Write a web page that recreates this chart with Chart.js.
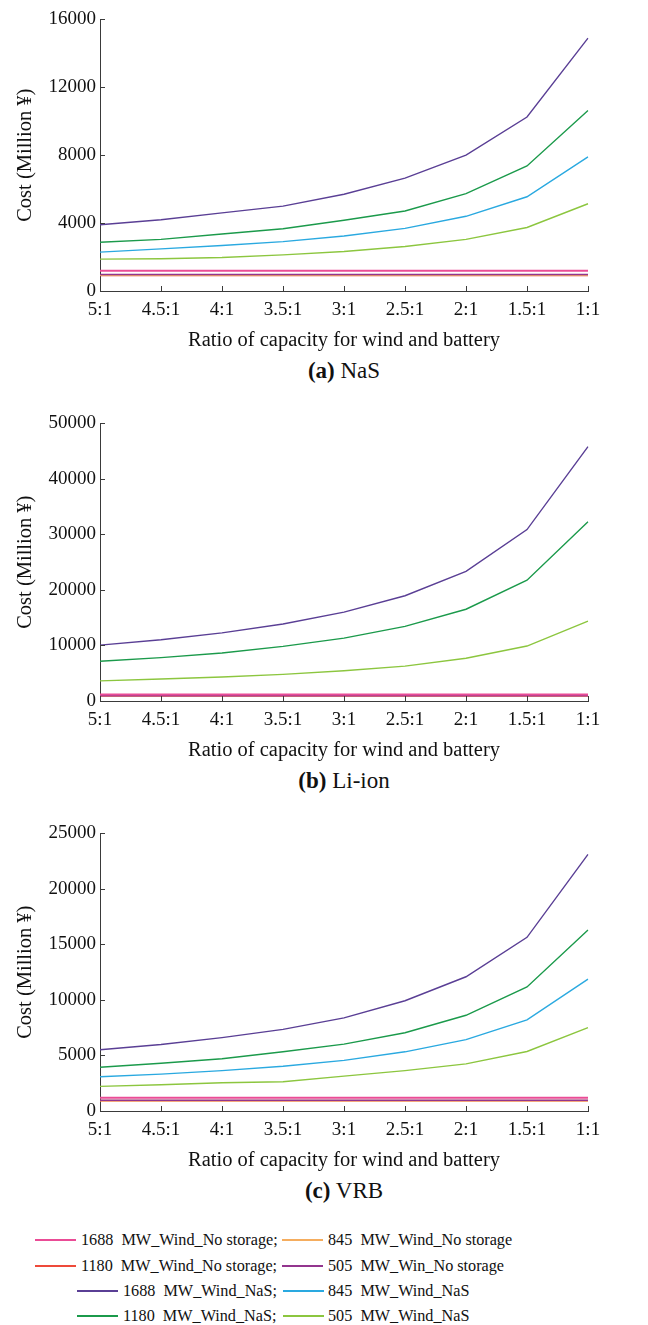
<!DOCTYPE html>
<html><head><meta charset="utf-8">
<script src="https://cdn.jsdelivr.net/npm/chart.js@4.4.1/dist/chart.umd.min.js"></script>
<style>
html,body{margin:0;padding:0;background:#fff;}
#wrap{position:relative;width:648px;height:1325px;overflow:hidden;font-family:"Liberation Serif","Times New Roman",serif;color:#111;}
canvas{position:absolute;left:0;}
.sub{position:absolute;left:0;width:688px;text-align:center;font-size:23px;line-height:26px;white-space:pre;}
.leg{position:absolute;font-size:16.2px;line-height:18px;white-space:pre;}
.legline{position:absolute;height:2px;}
</style></head><body><div id="wrap"></div>
<script>
// ---- data ----
const categories = ['5:1','4.5:1','4:1','3.5:1','3:1','2.5:1','2:1','1.5:1','1:1'];

const noStorage1688 = [1190,1190,1190,1190,1190,1190,1190,1190,1190];
const noStorage1180 = [920,920,920,920,920,920,920,920,920];
const noStorage845  = [935,935,935,935,935,935,935,935,935];
const noStorage505  = [970,970,970,970,970,970,970,970,970];

const nas1688 = [3900,4200,4600,5000,5700,6650,8000,10250,14900];
const nas1180 = [2870,3040,3360,3670,4170,4710,5740,7370,10630];
const nas845  = [2290,2480,2680,2910,3240,3690,4400,5550,7900];
const nas505  = [1880,1900,1970,2130,2330,2620,3040,3740,5140];

const li1688 = [10070,11020,12270,13870,16000,18960,23350,30870,45810];
const li1180 = [7170,7820,8650,9840,11320,13450,16530,21750,32300];
const li845  = [null,null,null,null,null,null,null,null,null];
const li505  = [3620,3970,4330,4800,5450,6280,7700,9900,14400];

const vrb1688 = [5510,5990,6610,7350,8390,9930,12090,15640,23110];
const vrb1180 = [3940,4300,4710,5330,6020,7050,8620,11170,16300];
const vrb845  = [3080,3320,3640,4030,4560,5330,6430,8210,11880];
const vrb505  = [2220,2370,2550,2640,3140,3640,4240,5360,7500];

const yMaxes = [16000, 50000, 25000];
const ySteps = [4000, 10000, 5000];
const panelLetters = ['(a)','(b)','(c)'];
const panelNames = [' NaS',' Li-ion',' VRB'];

const seriesLabels = ['1688  MW_Wind_No storage;','1180  MW_Wind_No storage;','1688  MW_Wind_NaS;','1180  MW_Wind_NaS;',
                      '845  MW_Wind_No storage','505  MW_Win_No storage','845  MW_Wind_NaS','505  MW_Wind_NaS'];
const seriesColors = ['#ea4c96','#ee4a3a','#5a3f95','#1b9a4b','#f5ad5e','#93358e','#2aa9e0','#8cc63f'];

// ---- layout ----
const FONT = '"Liberation Serif","Times New Roman",serif';
const plotTops = [16, 420, 830];
const plotBottoms = [291, 701, 1111];
const PLOT_LEFT = 100, PLOT_RIGHT = 588, PAD_TOP = 12, XSCALE_H = 62;

const panelSeries = [
  [nas1688, nas1180, nas845, nas505],
  [li1688, li1180, li845, li505],
  [vrb1688, vrb1180, vrb845, vrb505]
];

const inwardTicks = {
  id: 'inwardTicks',
  afterDraw(chart) {
    const {ctx, chartArea: {left, bottom}} = chart;
    const xs = chart.scales.x, ys = chart.scales.y;
    ctx.save();
    ctx.strokeStyle = '#3a3a3a'; ctx.lineWidth = 1;
    ctx.beginPath();
    xs.ticks.forEach((t, i) => { const x = Math.round(xs.getPixelForTick(i)) + 0.5; ctx.moveTo(x, bottom); ctx.lineTo(x, bottom - 5); });
    ys.ticks.forEach((t, i) => { const y = Math.round(ys.getPixelForTick(i)) + 0.5; ctx.moveTo(left, y); ctx.lineTo(left + 5, y); });
    ctx.stroke();
    ctx.restore();
  }
};

const wrap = document.getElementById('wrap');

for (let p = 0; p < 3; p++) {
  const cv = document.createElement('canvas');
  const h = plotBottoms[p] - plotTops[p] + PAD_TOP + XSCALE_H;
  cv.width = 648; cv.height = h;
  cv.style.top = (plotTops[p] - PAD_TOP) + 'px';
  cv.style.width = '648px'; cv.style.height = h + 'px';
  wrap.appendChild(cv);

  const [s1688, s1180, s845, s505] = panelSeries[p];
  const mk = (data, idx, w) => ({label: seriesLabels[idx], data, borderColor: seriesColors[idx], backgroundColor: seriesColors[idx], borderWidth: w, pointRadius: 0, tension: 0, fill: false, spanGaps: false});
  const datasets = [
    mk(noStorage1688, 0, 2),
    mk(noStorage505, 5, 1.6),
    mk(noStorage845, 4, 1.6),
    mk(noStorage1180, 1, 1.6),
    mk(s1688, 2, 1.4),
    mk(s1180, 3, 1.4),
    mk(s845, 6, 1.4),
    mk(s505, 7, 1.4)
  ];

  new Chart(cv, {
    type: 'line',
    data: {labels: categories, datasets},
    options: {
      responsive: false, animation: false, devicePixelRatio: 1,
      layout: {padding: {top: PAD_TOP, right: 648 - PLOT_RIGHT, left: 0, bottom: 0}},
      plugins: {legend: {display: false}, tooltip: {enabled: false}, title: {display: false}},
      scales: {
        x: {
          type: 'category', offset: false,
          grid: {display: false, drawTicks: false},
          border: {display: true, color: '#3a3a3a', width: 1},
          ticks: {autoSkip: false, maxRotation: 0, minRotation: 0, padding: 8, color: '#111', font: {family: FONT, size: 19}},
          title: {display: true, text: 'Ratio of capacity for wind and battery', color: '#111', font: {family: FONT, size: 20.5}, padding: {top: 0, bottom: 0}},
          afterFit(s) { s.height = XSCALE_H; }
        },
        y: {
          min: 0, max: yMaxes[p],
          grid: {display: false, drawTicks: false},
          border: {display: true, color: '#3a3a3a', width: 1},
          ticks: {stepSize: ySteps[p], padding: 4, color: '#111', font: {family: FONT, size: 19}, callback: v => String(v)},
          title: {display: true, text: 'Cost (Million ¥)', color: '#111', font: {family: FONT, size: 20.5}, padding: {top: 13, bottom: 0}},
          afterFit(s) { s.width = PLOT_LEFT; }
        }
      }
    },
    plugins: [inwardTicks]
  });

  const sub = document.createElement('div');
  sub.className = 'sub';
  sub.style.top = (plotBottoms[p] + 80 - 13) + 'px';
  const b = document.createElement('b'); b.textContent = panelLetters[p];
  sub.appendChild(b);
  sub.appendChild(document.createTextNode(panelNames[p]));
  wrap.appendChild(sub);
}

// ---- legend (HTML) ----
const legendPos = [
  {row: 0, lx: 35, tx: 81},  {row: 1, lx: 35, tx: 81},  {row: 2, lx: 77, tx: 123}, {row: 3, lx: 77, tx: 123},
  {row: 0, lx: 282, tx: 328}, {row: 1, lx: 282, tx: 328}, {row: 2, lx: 283, tx: 328}, {row: 3, lx: 283, tx: 328}
];
const legendRowY = [1240, 1266, 1291, 1316];
seriesLabels.forEach((lab, i) => {
  const pos = legendPos[i];
  const cy = legendRowY[pos.row];
  const ln = document.createElement('div');
  ln.className = 'legline';
  ln.style.left = pos.lx + 'px'; ln.style.width = '41px'; ln.style.top = (cy - 1) + 'px';
  ln.style.background = seriesColors[i];
  wrap.appendChild(ln);
  const t = document.createElement('div');
  t.className = 'leg';
  t.style.left = pos.tx + 'px'; t.style.top = (cy - 9) + 'px';
  t.textContent = lab;
  wrap.appendChild(t);
});
</script>
</body></html>
